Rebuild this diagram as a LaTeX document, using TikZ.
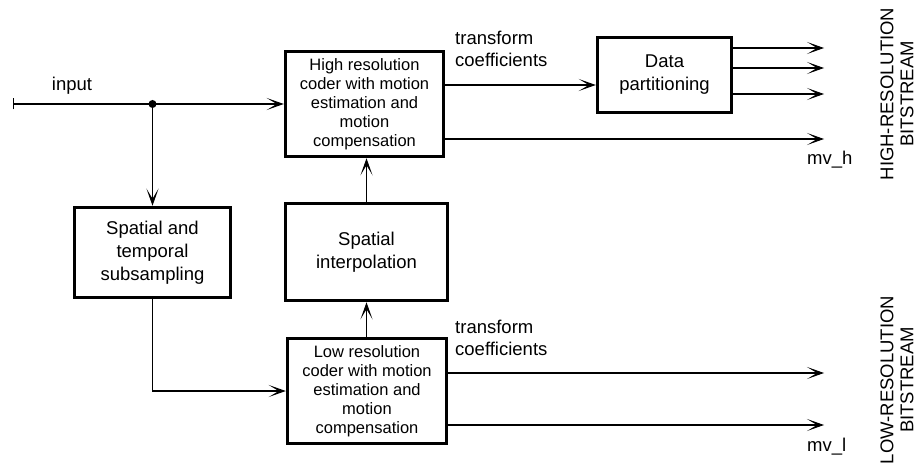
\documentclass[tikz,border=0pt]{standalone}
\usepackage{fontspec}
\setmainfont{Liberation Sans}
\usetikzlibrary{arrows.meta}
\begin{document}
\begin{tikzpicture}[x=1pt,y=-1pt,
  blk/.style={draw,line width=3.5pt,align=center,inner sep=0pt,
    font=\fontsize{18.5}{23}\selectfont},
  coder/.style={blk,font=\fontsize{16.5}{19}\selectfont},
  tip/.tip={Stealth[length=17pt,width=12pt,inset=10pt,line width=1pt]},
  arr/.style={line width=1.1pt,-tip},
  lbl/.style={inner sep=0pt,align=left,font=\fontsize{18.5}{22}\selectfont},
  vlbl/.style={inner sep=0pt,align=center,rotate=90,font=\fontsize{18.5}{20}\selectfont}]
\useasboundingbox (0,0) rectangle (921,468);
% blocks
\node[coder,minimum width=158pt,minimum height=105pt] (hc) at (364.5,104) {High resolution\\coder with motion\\estimation and\\motion\\compensation};
\node[blk,minimum width=162pt,minimum height=97pt] (si) at (366.5,252) {Spatial\\interpolation};
\node[blk,minimum width=156pt,minimum height=90pt] (sub) at (152.5,252.5) {Spatial and\\temporal\\subsampling};
\node[coder,minimum width=159pt,minimum height=105pt] (lc) at (367,391) {Low resolution\\coder with motion\\estimation and\\motion\\compensation};
\node[blk,minimum width=134pt,minimum height=75pt] (dp) at (664.5,75) {Data\\partitioning};
% coordinates
\coordinate (in) at (13,104);
\coordinate (ex) at (824,0);
\fill (152.5,104) circle (4pt) coordinate (dot);
% input
\draw[arr,{Bar[width=11pt,line width=1.1pt]}-tip] (in) -- (hc.west);
\node[lbl] (inl) at (72,86) {input};
\draw[arr] (dot) -- (sub.north);
\draw[arr] (sub.south) |- (lc.west);
\draw[arr] (lc.north -| si.south) -- (si.south);
\draw[arr] (si.north) -- (si.north |- hc.south);
% high-res outputs
\coordinate (h1) at ([yshift=19pt]hc.east);
\coordinate (h2) at ([yshift=-35pt]hc.east);
\draw[arr] (h1) -- (h1 -| dp.west);
\draw[arr] (h2) -- (h2 -| ex);
\coordinate (d1) at ([yshift=27pt]dp.east);
\coordinate (d2) at ([yshift=7pt]dp.east);
\coordinate (d3) at ([yshift=-19pt]dp.east);
\draw[arr] (d1) -- (d1 -| ex);
\draw[arr] (d2) -- (d2 -| ex);
\draw[arr] (d3) -- (d3 -| ex);
% low-res outputs
\coordinate (l1) at ([yshift=18pt]lc.east);
\coordinate (l2) at ([yshift=-34pt]lc.east);
\draw[arr] (l1) -- (l1 -| ex);
\draw[arr] (l2) -- (l2 -| ex);
% labels
\node[lbl,anchor=west] (tc1) at (455,49) {transform\\coefficients};
\node[lbl,anchor=west] (tc2) at (455,338) {transform\\coefficients};
\node[lbl,anchor=west] (mvh) at (807,160) {mv\_h};
\node[lbl,anchor=west] (mvl) at (807,447) {mv\_l};
\node[vlbl] (hb) at (897,94) {HIGH-RESOLUTION\\BITSTREAM};
\node[vlbl] (lb) at (897,380) {LOW-RESOLUTION\\BITSTREAM};
\end{tikzpicture}
\end{document}
